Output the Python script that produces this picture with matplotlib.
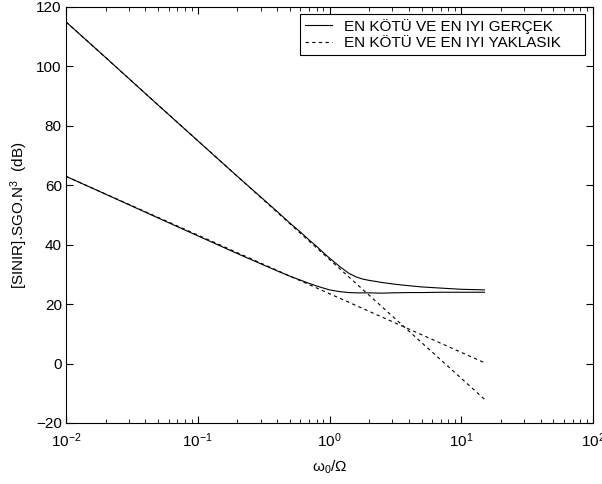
import matplotlib
matplotlib.use("Agg")
import matplotlib.pyplot as plt

plt.rcParams['font.family'] = ['Liberation Sans', 'DejaVu Sans']
plt.rcParams['mathtext.fontset'] = 'custom'
plt.rcParams['mathtext.rm'] = 'Liberation Sans'
plt.rcParams['mathtext.it'] = 'Liberation Sans'
plt.rcParams['mathtext.default'] = 'regular'

# exact curves (gerçek)
x_real = [0.01, 0.02, 0.05, 0.1, 0.2, 0.3, 0.4, 0.5, 0.6, 0.7, 0.8, 0.9, 1.0,
          1.2, 1.4, 1.6, 1.8, 2.0, 2.5, 3, 4, 5, 7, 10, 15]
worst_real = [115, 103, 87, 75, 63, 56.1, 51.2, 47.3, 44.3, 41.6, 39.4, 37.3, 35.5,
              32.6, 30.4, 29.1, 28.4, 28.0, 27.3, 26.8, 26.2, 25.8, 25.4, 25.0, 24.8]
best_real = [63, 57, 49, 43, 37, 33.6, 31.2, 29.4, 28.1, 27.0, 26.1, 25.4, 24.8,
             24.2, 23.9, 23.8, 23.8, 23.8, 23.7, 23.8, 23.9, 23.9, 24.0, 24.0, 24.0]

# asymptotic approximations (yaklaşık)
x_approx = [0.01, 15]
worst_approx = [115, -12]
best_approx = [63, 0.3]

fig = plt.figure(figsize=(6.02, 4.84), dpi=100)
ax = fig.add_axes([66/602, 1 - 423/484, 527/602, 416/484])

ax.semilogx(x_real, worst_real, 'k-', lw=0.8, label='EN KÖTÜ VE EN IYI GERÇEK')
ax.semilogx(x_real, best_real, 'k-', lw=0.8)
ax.semilogx(x_approx, worst_approx, color='k', ls=(0, (3, 3)), lw=0.8,
            label='EN KÖTÜ VE EN IYI YAKLASIK')
ax.semilogx(x_approx, best_approx, color='k', ls=(0, (3, 3)), lw=0.8)

ax.set_xlim(1e-2, 1e2)
ax.set_ylim(-20, 120)
ax.set_yticks(range(-20, 121, 20))
ax.tick_params(which='both', direction='in', top=True, right=True, labelsize=11)
ax.tick_params(which='major', length=5)
ax.tick_params(which='minor', length=3)
ax.tick_params(axis='x', which='major', pad=6)
ax.tick_params(axis='y', pad=3)
for s in ax.spines.values():
    s.set_linewidth(0.8)

ax.set_xlabel('ω$_0$/Ω', fontsize=11, labelpad=6)
ax.set_ylabel('[SINIR].SGO.N$^3$  (dB)', fontsize=11)

# legend box spans roughly x=300..585 px, top at 14 px (MATLAB style, extra room at right)
leg = ax.legend(loc='upper left', bbox_to_anchor=(0.444, 0.0, 0.541, 0.983),
                mode='expand', borderaxespad=0, fontsize=11, fancybox=False,
                framealpha=1, edgecolor='k', handlelength=1.8, handletextpad=0.8,
                borderpad=0.3, labelspacing=0.15)
leg.get_frame().set_linewidth(0.8)

fig.savefig('out.png', dpi=100)
